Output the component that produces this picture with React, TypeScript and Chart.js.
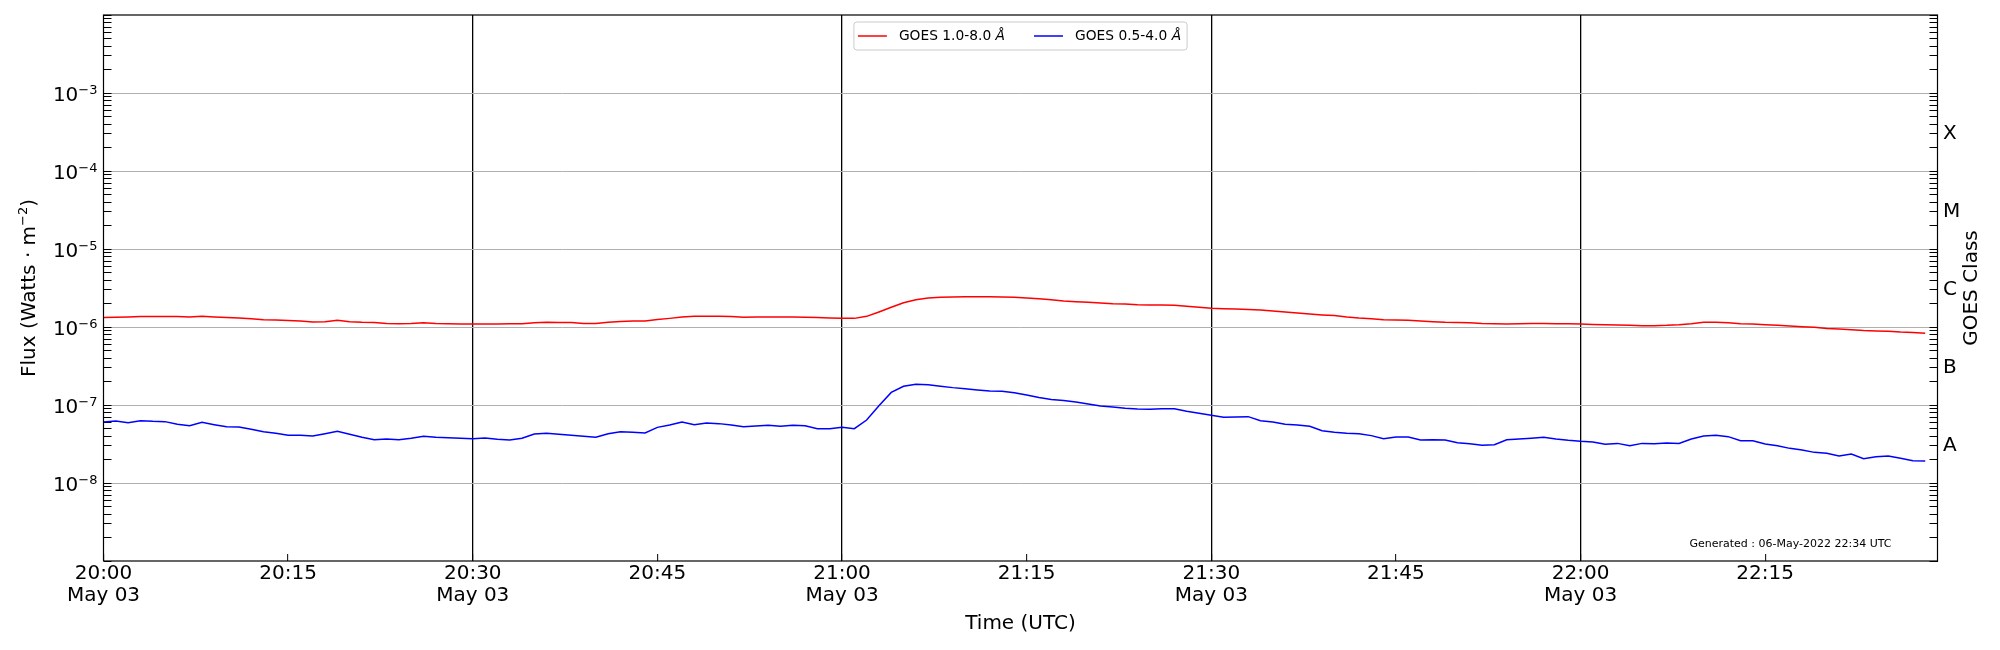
import React, { useEffect, useRef } from "react";
import { Chart, registerables } from "chart.js";

Chart.register(...registerables);

const FONT = '"DejaVu Sans", sans-serif';

// GOES XRS one-minute fluxes, first point at 20:00 UTC, one per minute
const START_HOUR = 20;
const DATE_LABEL = "May 03";
const AXIS_END_MIN = 149; // right edge of the plot, 22:29
const GENERATED = "Generated : 06-May-2022 22:34 UTC";

const LONG_LABEL = "GOES 1.0-8.0 Å";
const SHORT_LABEL = "GOES 0.5-4.0 Å";

// 1.0-8.0 Angstrom channel (W m^-2)
const longFlux = [
  1.32e-6, 1.33e-6, 1.34e-6, 1.36e-6, 1.36e-6, 1.36e-6, 1.36e-6, 1.34e-6, 1.37e-6, 1.34e-6,
  1.32e-6, 1.30e-6, 1.28e-6, 1.24e-6, 1.23e-6, 1.21e-6, 1.19e-6, 1.16e-6, 1.17e-6, 1.22e-6,
  1.17e-6, 1.15e-6, 1.14e-6, 1.11e-6, 1.10e-6, 1.11e-6, 1.13e-6, 1.11e-6, 1.10e-6, 1.09e-6,
  1.09e-6, 1.09e-6, 1.09e-6, 1.10e-6, 1.10e-6, 1.13e-6, 1.15e-6, 1.14e-6, 1.14e-6, 1.11e-6,
  1.11e-6, 1.15e-6, 1.18e-6, 1.19e-6, 1.19e-6, 1.25e-6, 1.29e-6, 1.34e-6, 1.37e-6, 1.37e-6,
  1.37e-6, 1.36e-6, 1.33e-6, 1.34e-6, 1.34e-6, 1.34e-6, 1.34e-6, 1.33e-6, 1.32e-6, 1.30e-6,
  1.29e-6, 1.29e-6, 1.37e-6, 1.56e-6, 1.79e-6, 2.05e-6, 2.24e-6, 2.35e-6, 2.40e-6, 2.42e-6,
  2.45e-6, 2.45e-6, 2.45e-6, 2.42e-6, 2.40e-6, 2.35e-6, 2.31e-6, 2.24e-6, 2.16e-6, 2.11e-6,
  2.07e-6, 2.03e-6, 1.99e-6, 1.97e-6, 1.93e-6, 1.91e-6, 1.91e-6, 1.90e-6, 1.84e-6, 1.79e-6,
  1.74e-6, 1.72e-6, 1.70e-6, 1.68e-6, 1.65e-6, 1.60e-6, 1.56e-6, 1.51e-6, 1.47e-6, 1.43e-6,
  1.40e-6, 1.34e-6, 1.30e-6, 1.28e-6, 1.24e-6, 1.23e-6, 1.22e-6, 1.19e-6, 1.17e-6, 1.15e-6,
  1.14e-6, 1.13e-6, 1.11e-6, 1.10e-6, 1.09e-6, 1.10e-6, 1.11e-6, 1.11e-6, 1.10e-6, 1.10e-6,
  1.09e-6, 1.08e-6, 1.07e-6, 1.06e-6, 1.05e-6, 1.04e-6, 1.04e-6, 1.05e-6, 1.07e-6, 1.10e-6,
  1.15e-6, 1.15e-6, 1.13e-6, 1.10e-6, 1.09e-6, 1.07e-6, 1.05e-6, 1.03e-6, 1.01e-6, 0.99e-6,
  0.96e-6, 0.94e-6, 0.92e-6, 0.90e-6, 0.89e-6, 0.88e-6, 0.86e-6, 0.85e-6, 0.83e-6,
];

// 0.5-4.0 Angstrom channel (W m^-2)
const shortFlux = [
  6.06e-8, 6.24e-8, 5.94e-8, 6.30e-8, 6.18e-8, 6.12e-8, 5.65e-8, 5.43e-8, 6.00e-8, 5.60e-8,
  5.27e-8, 5.22e-8, 4.88e-8, 4.55e-8, 4.33e-8, 4.09e-8, 4.09e-8, 4.01e-8, 4.29e-8, 4.60e-8,
  4.21e-8, 3.85e-8, 3.59e-8, 3.66e-8, 3.59e-8, 3.74e-8, 3.97e-8, 3.85e-8, 3.81e-8, 3.74e-8,
  3.70e-8, 3.77e-8, 3.63e-8, 3.56e-8, 3.74e-8, 4.25e-8, 4.33e-8, 4.21e-8, 4.09e-8, 3.97e-8,
  3.85e-8, 4.29e-8, 4.55e-8, 4.46e-8, 4.38e-8, 5.17e-8, 5.54e-8, 6.06e-8, 5.60e-8, 5.88e-8,
  5.77e-8, 5.54e-8, 5.27e-8, 5.38e-8, 5.49e-8, 5.33e-8, 5.49e-8, 5.43e-8, 4.97e-8, 4.97e-8,
  5.17e-8, 4.97e-8, 6.42e-8, 9.80e-8, 1.45e-7, 1.74e-7, 1.84e-7, 1.82e-7, 1.74e-7, 1.67e-7,
  1.62e-7, 1.56e-7, 1.51e-7, 1.50e-7, 1.44e-7, 1.34e-7, 1.25e-7, 1.18e-7, 1.14e-7, 1.09e-7,
  1.03e-7, 9.71e-8, 9.43e-8, 9.06e-8, 8.88e-8, 8.80e-8, 8.97e-8, 8.97e-8, 8.30e-8, 7.82e-8,
  7.37e-8, 6.95e-8, 7.02e-8, 7.09e-8, 6.30e-8, 6.06e-8, 5.65e-8, 5.54e-8, 5.33e-8, 4.69e-8,
  4.46e-8, 4.33e-8, 4.29e-8, 4.05e-8, 3.70e-8, 3.89e-8, 3.89e-8, 3.56e-8, 3.59e-8, 3.56e-8,
  3.29e-8, 3.19e-8, 3.04e-8, 3.10e-8, 3.59e-8, 3.66e-8, 3.74e-8, 3.85e-8, 3.66e-8, 3.52e-8,
  3.42e-8, 3.35e-8, 3.13e-8, 3.22e-8, 3.01e-8, 3.22e-8, 3.19e-8, 3.26e-8, 3.22e-8, 3.66e-8,
  4.01e-8, 4.09e-8, 3.93e-8, 3.49e-8, 3.49e-8, 3.16e-8, 3.01e-8, 2.78e-8, 2.65e-8, 2.47e-8,
  2.40e-8, 2.22e-8, 2.35e-8, 2.05e-8, 2.17e-8, 2.22e-8, 2.07e-8, 1.93e-8, 1.91e-8,
];

// flux axis: 1e-9 .. 1e-2, labels on decades 1e-8 .. 1e-3
const Y_MIN_EXP = -9;
const Y_MAX_EXP = -2;
const LABELLED_EXPS = [-8, -7, -6, -5, -4, -3];
// GOES class letters sit at 3 x 10^n
const CLASS_LETTERS: Record<number, string> = { [-8]: "A", [-7]: "B", [-6]: "C", [-5]: "M", [-4]: "X" };

// 1..9 x 10^n tick positions for the log axes
const logTicks: { value: number }[] = [];
for (let e = Y_MIN_EXP; e < Y_MAX_EXP; e++) {
  for (let k = 1; k <= 9; k++) logTicks.push({ value: k * Math.pow(10, e) });
}
logTicks.push({ value: Math.pow(10, Y_MAX_EXP) });

const splitLog = (v: number) => {
  const e = Math.floor(Math.log10(v) + 1e-9);
  const k = Math.round(v / Math.pow(10, e));
  return { e, k };
};

const pad2 = (n: number) => n.toString().padStart(2, "0");
const timeLabel = (m: number) => {
  const h = START_HOUR + Math.floor(m / 60);
  return `${pad2(h)}:${pad2(m % 60)}`;
};

// draws base + raised exponent, right edge at x, base baseline at y
function drawPower(ctx: CanvasRenderingContext2D, base: string, exp: string, x: number, y: number) {
  const big = `20px ${FONT}`;
  const small = `13px ${FONT}`;
  ctx.font = small;
  const we = ctx.measureText(exp).width;
  ctx.font = big;
  const wb = ctx.measureText(base).width;
  ctx.textAlign = "left";
  ctx.textBaseline = "alphabetic";
  ctx.fillText(base, x - we - wb, y);
  ctx.font = small;
  ctx.fillText(exp, x - we, y - 7.4);
  return wb + we;
}

const legendPlugin = {
  id: "goesLegend",
  afterDatasetsDraw(chart: any) {
    const { ctx, chartArea: a } = chart;
    const size = 13.8;
    const normal = `${size}px ${FONT}`;
    const italic = `italic ${size}px ${FONT}`;
    ctx.save();
    const items = chart.data.datasets.map((ds: any) => {
      const label: string = ds.label;
      const base = label.slice(0, label.lastIndexOf(" ") + 1);
      const unit = label.slice(label.lastIndexOf(" ") + 1);
      ctx.font = normal;
      const wb = ctx.measureText(base).width;
      ctx.font = italic;
      const wu = ctx.measureText(unit).width;
      return { base, unit, wb, w: wb + wu, color: ds.borderColor };
    });
    const handle = 29;
    const gap = 12;
    const colGap = 29;
    const padL = 4;
    const padR = 6;
    let width = padL + padR + colGap * (items.length - 1);
    items.forEach((it: any) => (width += handle + gap + it.w));
    const h = 28;
    const left = (a.left + a.right) / 2 - width / 2;
    const top = a.top + 7;
    ctx.beginPath();
    if (ctx.roundRect) ctx.roundRect(left, top, width, h, 3);
    else ctx.rect(left, top, width, h);
    ctx.fillStyle = "rgba(255,255,255,0.8)";
    ctx.fill();
    ctx.strokeStyle = "#cccccc";
    ctx.lineWidth = 1;
    ctx.stroke();
    const cy = top + h / 2;
    let x = left + padL;
    items.forEach((it: any) => {
      ctx.beginPath();
      ctx.moveTo(x, cy);
      ctx.lineTo(x + handle, cy);
      ctx.strokeStyle = it.color;
      ctx.lineWidth = 1.5;
      ctx.stroke();
      x += handle + gap;
      ctx.fillStyle = "#000";
      ctx.textBaseline = "middle";
      ctx.textAlign = "left";
      ctx.font = normal;
      ctx.fillText(it.base, x, cy);
      ctx.font = italic;
      ctx.fillText(it.unit, x + it.wb, cy);
      x += it.w + colGap;
    });
    ctx.restore();
  },
};

const decorPlugin = {
  id: "goesDecor",
  afterDatasetsDraw(chart: any) {
    const { ctx, chartArea: a } = chart;
    const yScale = chart.scales.y;
    ctx.save();
    // frame
    ctx.strokeStyle = "#000";
    ctx.lineWidth = 1.2;
    ctx.strokeRect(a.left, a.top, a.right - a.left, a.bottom - a.top);

    // decade labels 10^n on the flux axis
    ctx.fillStyle = "#000";
    LABELLED_EXPS.forEach((e) => {
      const py = yScale.getPixelForValue(Math.pow(10, e));
      drawPower(ctx, "10", "\u2212" + String(-e), a.left - 6, py + 8.4);
    });

    // flux axis title, reading upwards
    ctx.save();
    ctx.translate(27.5, (a.top + a.bottom) / 2);
    ctx.rotate(-Math.PI / 2);
    const head = "Flux (Watts · m";
    const exp = "\u22122";
    const tail = ")";
    ctx.font = `20px ${FONT}`;
    const wh = ctx.measureText(head).width;
    const wt = ctx.measureText(tail).width;
    ctx.font = `13px ${FONT}`;
    const we = ctx.measureText(exp).width;
    let tx = -(wh + we + wt) / 2;
    ctx.textAlign = "left";
    ctx.textBaseline = "alphabetic";
    ctx.font = `20px ${FONT}`;
    ctx.fillText(head, tx, 7);
    tx += wh;
    ctx.font = `13px ${FONT}`;
    ctx.fillText(exp, tx, 7 - 7.4);
    tx += we;
    ctx.font = `20px ${FONT}`;
    ctx.fillText(tail, tx, 7);
    ctx.restore();

    // right-hand axis title, reading upwards
    ctx.save();
    ctx.translate(a.right + 34, (a.top + a.bottom) / 2);
    ctx.rotate(-Math.PI / 2);
    ctx.font = `20px ${FONT}`;
    ctx.textAlign = "center";
    ctx.textBaseline = "middle";
    ctx.fillText("GOES Class", 0, 0);
    ctx.restore();

    ctx.font = `11px ${FONT}`;
    ctx.textAlign = "right";
    ctx.textBaseline = "middle";
    ctx.fillText(GENERATED, a.right - 46, a.bottom - 17);
    ctx.restore();
  },
};

const GoesChart: React.FC = () => {
  const chartRef = useRef<HTMLCanvasElement | null>(null);

  useEffect(() => {
    if (!chartRef.current) return;
    const ctx = chartRef.current.getContext("2d");
    if (!ctx) return;

    const tickFont = { family: FONT, size: 20, lineHeight: 1.1 };

    const chart = new Chart(ctx, {
      type: "line",
      data: {
        datasets: [
          {
            label: LONG_LABEL,
            data: longFlux.map((v, i) => ({ x: i, y: v })),
            borderColor: "#ff0000",
            borderWidth: 1.5,
            pointRadius: 0,
            yAxisID: "y",
          },
          {
            label: SHORT_LABEL,
            data: shortFlux.map((v, i) => ({ x: i, y: v })),
            borderColor: "#0000ff",
            borderWidth: 1.5,
            pointRadius: 0,
            yAxisID: "y",
          },
        ],
      },
      options: {
        animation: false,
        responsive: false,
        devicePixelRatio: 1,
        events: [],
        layout: { padding: { top: 15, left: 0, right: 0, bottom: 0 } },
        plugins: {
          legend: { display: false },
          tooltip: { enabled: false },
        },
        scales: {
          x: {
            type: "linear",
            min: 0,
            max: AXIS_END_MIN,
            afterFit: (s: any) => {
              s.height = 89;
            },
            border: { display: false },
            grid: {
              color: (c: any) =>
                c.tick && c.tick.value > 0 && c.tick.value % 30 === 0 ? "#000" : "rgba(0,0,0,0)",
              lineWidth: 1.3,
              tickColor: "#000",
              tickWidth: 1,
              tickLength: -7,
            },
            ticks: {
              stepSize: 15,
              includeBounds: false,
              autoSkip: false,
              maxRotation: 0,
              padding: 9,
              color: "#000",
              font: tickFont,
              callback: (v: any) => {
                const m = Number(v);
                return m % 30 === 0 ? [timeLabel(m), DATE_LABEL] : timeLabel(m);
              },
            },
            title: {
              display: true,
              text: "Time (UTC)",
              color: "#000",
              font: { family: FONT, size: 20, lineHeight: 1.2 },
              padding: { top: 0, bottom: 14 },
            },
          },
          y: {
            type: "logarithmic",
            position: "left",
            min: Math.pow(10, Y_MIN_EXP),
            max: Math.pow(10, Y_MAX_EXP),
            afterBuildTicks: (s: any) => {
              s.ticks = logTicks.map((t) => ({ ...t }));
            },
            afterFit: (s: any) => {
              s.width = 103.5;
              s.paddingTop = 0;
              s.paddingBottom = 0;
            },
            border: { display: false },
            grid: {
              color: (c: any) => {
                if (!c.tick) return "rgba(0,0,0,0)";
                const { e, k } = splitLog(c.tick.value);
                return k === 1 && LABELLED_EXPS.includes(e) ? "#b0b0b0" : "rgba(0,0,0,0)";
              },
              lineWidth: 1,
              tickColor: "#000",
              tickLength: -8,
            },
            ticks: {
              autoSkip: false,
              color: "#000",
              font: { family: FONT, size: 20 },
              // the 10^n labels are drawn with a raised exponent by goesDecor
              callback: () => "",
            },
          },
          y2: {
            type: "logarithmic",
            position: "right",
            min: Math.pow(10, Y_MIN_EXP),
            max: Math.pow(10, Y_MAX_EXP),
            afterBuildTicks: (s: any) => {
              s.ticks = logTicks.map((t) => ({ ...t }));
            },
            afterFit: (s: any) => {
              s.width = 62.5;
              s.paddingTop = 0;
              s.paddingBottom = 0;
            },
            border: { display: false },
            grid: {
              drawOnChartArea: false,
              color: "#000",
              tickColor: "#000",
              lineWidth: 1,
              tickLength: -8,
            },
            ticks: {
              autoSkip: false,
              padding: 13.5,
              color: "#000",
              font: { family: FONT, size: 20 },
              callback: (v: any) => {
                const { e, k } = splitLog(Number(v));
                return k === 3 && CLASS_LETTERS[e] ? CLASS_LETTERS[e] : "";
              },
            },
          },
        },
      } as any,
      plugins: [decorPlugin, legendPlugin],
    });

    return () => {
      chart.destroy();
    };
  }, []);

  return (
    <div
      style={{
        position: "absolute",
        left: 0,
        top: 0,
        width: "2000px",
        height: "650px",
        background: "#ffffff",
      }}
    >
      <canvas ref={chartRef} width={2000} height={650} style={{ width: "2000px", height: "650px" }}></canvas>
    </div>
  );
};

export default function App() {
  return <GoesChart />;
}
